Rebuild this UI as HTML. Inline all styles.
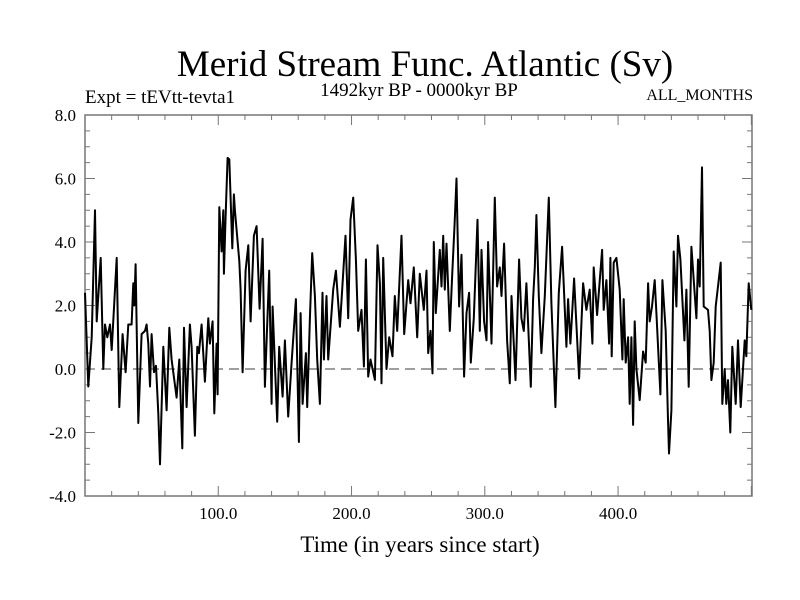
<!DOCTYPE html>
<html><head><meta charset="utf-8"><style>
html,body{margin:0;padding:0;background:#fff;}
svg{display:block;font-family:"Liberation Serif",serif;}
</style></head><body>
<svg id="chart" width="800" height="600">
<text x="425" y="76" font-size="37" text-anchor="middle">Merid Stream Func. Atlantic (Sv)</text>
<text x="85" y="103" font-size="19">Expt = tEVtt-tevta1</text>
<text x="419" y="96" font-size="19" text-anchor="middle">1492kyr BP - 0000kyr BP</text>
<text x="753" y="100" font-size="16" text-anchor="end">ALL_MONTHS</text>
<text x="420" y="552" font-size="23" text-anchor="middle">Time (in years since start)</text>
<g id="axes"></g>
<path id="series" fill="none" stroke="#000" stroke-width="2" stroke-linejoin="round"/>
</svg>
<script>
const years=[0,2.5,5,7.5,8.75,11.75,13.75,15,16.75,18.75,20,23.75,25.75,28.25,30.5,32.5,35,36.25,37,38,40,42.5,45,46.25,47.5,48.75,50,51.75,53.25,55,56.25,58.75,61.25,63.25,65,68.75,70.75,73,74.25,76.25,78.75,80,82.5,84.25,85.5,87.5,90,92.5,93.75,95.75,97,98.75,99.5,100.75,102.5,103.75,104.25,105.5,107,108.25,110.5,111.75,112.5,115.75,116.75,118.25,120.5,122.5,124.25,126.75,128.75,131,133.25,135,138.25,140,140.75,144.25,145.75,148.25,150,152.5,155,158.25,160.5,161.75,163.25,165.75,166.75,168.75,170.5,172.5,174.25,176.25,178.25,179.25,181.25,182.5,186.25,188.25,191.25,195.5,197.5,199.25,201.25,203.25,205,207.5,209.25,210.75,212.5,214.25,217.5,219.5,221.25,222.5,223.75,226.25,228.25,230.75,232.5,234.25,237.5,239.5,242.5,244.25,246.75,249.25,251.25,254.25,256.25,257.5,259.25,260.75,261.75,263.25,266.25,267.5,268.75,270,271.25,273.75,275.5,277.25,278.75,280.75,282.5,284.5,286.25,288.25,289.5,291.75,294.5,296.25,297.5,299.5,301.25,302.5,305,307.5,309.25,311.25,312.5,314.5,316.75,318.75,320,323,325.75,327.5,329.25,331.25,334.5,336.25,337.5,338.75,340.5,342.5,345,348,350,353,355.5,358,361.25,362.5,364.25,367,368.75,370.75,373.75,376.25,378.75,380.75,381.75,384.25,388,389.25,391.25,393.25,394.25,395.25,396.75,398.75,401.25,403.25,404.25,405.75,407.5,408.75,410,411.25,412.5,413.75,416.25,418.75,420.75,422.5,423.75,425.5,427.5,428.75,431.75,433.25,435.75,437.5,438.25,440,441.75,443.75,445,446.75,449.75,451.25,453,455,458.75,460,461.25,463,464.25,467.5,468.75,470,471.75,473.25,477,478.25,480,481.25,482.5,484.25,485.75,488.25,490,492,495,496.25,498,500];
const values=[2.4,-0.55,1.0,5.0,1.5,3.5,0,1.4,1.0,1.4,0.6,3.5,-1.2,1.1,-0.1,1.4,1.4,2.7,2.0,3.3,-1.7,1.1,1.2,1.4,0.8,-0.55,1.1,-0.1,0.1,-1.4,-3.0,0.7,-1.3,1.3,0.3,-0.9,0.3,-2.5,1.3,-1.2,1.4,0.7,-2.1,0.7,0.5,1.4,-0.4,1.6,0.8,1.5,-1.4,0.8,-0.8,5.1,3.7,5.0,3.0,4.8,6.65,6.6,3.8,5.5,5.0,3.4,2.5,-0.1,3.1,3.9,1.5,4.2,4.5,1.9,4.1,-0.56,3.1,-1.1,1.97,-1.66,0.7,-0.87,0.9,-1.5,0.2,2.2,-2.3,1.76,-1.1,0.5,-1.2,1.6,3.65,2.3,0.3,-1.1,2.4,0.3,2.3,0.3,2.5,3.1,1.33,4.2,1.6,4.7,5.4,3.45,1.2,1.86,0.08,3.45,-0.24,0.3,-0.34,3.9,2.7,-0.45,3.5,0.0,1.0,0.4,2.3,1.2,4.2,1.1,2.8,2.07,3.2,1.0,3.0,1.86,3.1,0.5,1.2,-0.14,4.0,1.76,3.75,2.6,4.2,2.5,3.95,1.2,2.9,4.5,6.0,1.97,3.6,-0.24,1.76,2.4,0.2,1.6,4.7,1.2,3.75,1.5,0.9,4.0,0.8,5.4,2.6,3.2,2.3,3.95,0.9,-0.45,2.3,-0.35,3.45,1.6,1.2,2.7,-0.56,2.2,3.2,4.85,2.3,0.5,2.3,5.4,2.07,-1.2,2.4,3.85,0.7,2.2,0.8,2.85,1.4,-0.3,2.7,1.86,2.5,0.8,3.2,1.7,3.75,1.86,2.8,0.8,3.5,0.4,3.35,3.5,2.5,0.3,2.2,0.2,1.0,-1.1,1.0,-1.76,1.5,0.0,-0.98,0.55,0.2,2.7,1.5,1.97,2.8,1.76,-0.8,2.8,1.2,-1.6,-2.66,-1.3,3.7,1.97,4.2,3.45,0.9,2.5,-0.56,3.85,1.6,3.45,2.6,6.35,1.97,1.86,1.2,-0.35,0.2,1.97,3.35,-1.1,0,-1.1,-0.35,-2.0,0.7,-1.1,0.9,-1.2,0.9,0.4,2.7,1.86];
const yTicks=[-4,-2,0,2,4,6,8];
const yTickLabels=["-4.0","-2.0","0.0","2.0","4.0","6.0","8.0"];
const xTicks=[100,200,300,400];
const xTickLabels=["100.0","200.0","300.0","400.0"];

const L=85,R=752,T=115,B=496,X0=0,X1=500.5,Y0=-4,Y1=8;
const sx=v=>L+(v-X0)/(X1-X0)*(R-L);
const sy=v=>B-(v-Y0)/(Y1-Y0)*(B-T);
const NS="http://www.w3.org/2000/svg";
const axes=document.getElementById('axes');
function mk(tag,attrs){const e=document.createElementNS(NS,tag);for(const k in attrs)e.setAttribute(k,attrs[k]);axes.appendChild(e);return e;}

const frame=mk('rect',{x:L,y:T,width:R-L,height:B-T,fill:'none',stroke:'#777','stroke-width':1.5});



const zl=mk('line',{x1:L,x2:R,y1:sy(0),y2:sy(0),stroke:'#666','stroke-width':1.2,'stroke-dasharray':'10,6'});



for(let v=Y0;v<=Y1+1e-9;v+=0.5){
  const major=Math.abs(v/2-Math.round(v/2))<1e-9;
  const len=major?10:5,y=sy(v);
  mk('line',{x1:L,x2:L+len,y1:y,y2:y,stroke:'#777','stroke-width':1});
  mk('line',{x1:R,x2:R-len,y1:y,y2:y,stroke:'#777','stroke-width':1});
}
for(let v=20;v<X1;v+=20){
  const major=v%100===0,len=major?10:5,x=sx(v);
  mk('line',{x1:x,x2:x,y1:T,y2:T+len,stroke:'#777','stroke-width':1});
  mk('line',{x1:x,x2:x,y1:B,y2:B-len,stroke:'#777','stroke-width':1});
}
yTicks.forEach((v,i)=>{
  const t=mk('text',{x:L-9,y:sy(v)+6,'font-size':17,'text-anchor':'end'});
  t.textContent=yTickLabels[i];
  
  
});
xTicks.forEach((v,i)=>{
  const t=mk('text',{x:sx(v),y:B+23,'font-size':17,'text-anchor':'middle'});
  t.textContent=xTickLabels[i];
  
  
});
document.getElementById('series').setAttribute('d',years.map((yr,i)=>(i?'L':'M')+sx(yr).toFixed(1)+' '+sy(values[i]).toFixed(1)).join(' '));
</script>
</body></html>
